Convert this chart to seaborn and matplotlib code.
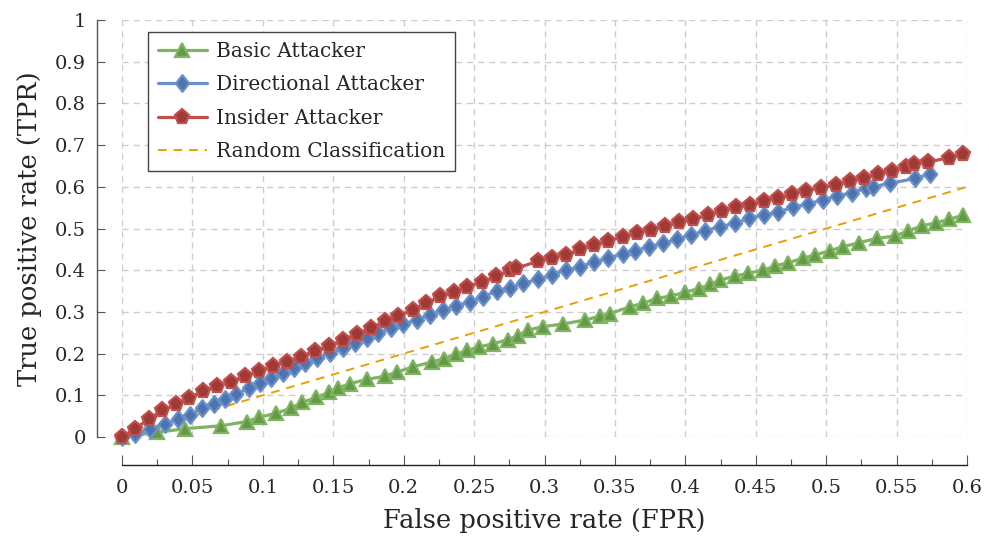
import matplotlib
matplotlib.use("Agg")
import matplotlib.pyplot as plt
from matplotlib.ticker import MultipleLocator, FixedLocator
from matplotlib.path import Path
import seaborn as sns
import pandas as pd

# ROC points per attacker model
basic_fpr = [0, 0.0246, 0.045, 0.0705, 0.0885, 0.097, 0.1095, 0.1198, 0.128, 0.138,
             0.1466, 0.1536, 0.162, 0.1737, 0.1867, 0.1955, 0.2064, 0.22, 0.2287, 0.237,
             0.245, 0.2537, 0.2637, 0.2737, 0.2812, 0.2885, 0.2987, 0.3133, 0.3287, 0.3394,
             0.3465, 0.3607, 0.370, 0.3797, 0.3896, 0.3995, 0.4096, 0.4176, 0.4246, 0.4353,
             0.4447, 0.4554, 0.4637, 0.473, 0.4833, 0.492, 0.5027, 0.5117, 0.5235, 0.536,
             0.549, 0.5583, 0.5678, 0.578, 0.5874, 0.5974]
basic_tpr = [0, 0.011, 0.020, 0.027, 0.037, 0.047, 0.057, 0.069, 0.083, 0.095,
             0.107, 0.118, 0.128, 0.138, 0.146, 0.156, 0.168, 0.180, 0.188, 0.198,
             0.208, 0.216, 0.224, 0.233, 0.243, 0.2566, 0.2646, 0.271, 0.2806, 0.290,
             0.296, 0.3125, 0.3205, 0.3325, 0.338, 0.347, 0.356, 0.366, 0.3765, 0.386,
             0.3925, 0.4005, 0.410, 0.418, 0.4285, 0.4365, 0.4468, 0.4564, 0.466, 0.4765,
             0.482, 0.4948, 0.506, 0.514, 0.522, 0.5324]

directional_fpr = [0, 0.0095, 0.0202, 0.0303, 0.0395, 0.048, 0.057, 0.065, 0.073, 0.081,
                   0.090, 0.098, 0.106, 0.1145, 0.122, 0.130, 0.1385, 0.1477, 0.1566, 0.1655,
                   0.1737, 0.182, 0.1907, 0.1998, 0.2092, 0.2187, 0.2281, 0.237, 0.247, 0.2566,
                   0.266, 0.2755, 0.285, 0.295, 0.305, 0.3153, 0.325, 0.335, 0.3453, 0.3555,
                   0.3643, 0.3744, 0.3843, 0.394, 0.404, 0.414, 0.4246, 0.4353, 0.4454, 0.4558,
                   0.466, 0.4766, 0.4868, 0.4975, 0.5079, 0.518, 0.5283, 0.5335, 0.5453, 0.563,
                   0.574]
directional_tpr = [0, 0.007, 0.018, 0.030, 0.043, 0.053, 0.069, 0.078, 0.090, 0.102,
                   0.117, 0.129, 0.141, 0.154, 0.165, 0.177, 0.189, 0.2007, 0.2127, 0.2247,
                   0.238, 0.250, 0.2607, 0.271, 0.2806, 0.2926, 0.3046, 0.314, 0.3245, 0.3365,
                   0.350, 0.358, 0.3685, 0.378, 0.3885, 0.4005, 0.407, 0.420, 0.4285, 0.440,
                   0.4468, 0.4564, 0.4645, 0.474, 0.4844, 0.4948, 0.5044, 0.5125, 0.5245, 0.5324,
                   0.540, 0.5508, 0.5588, 0.5683, 0.578, 0.586, 0.5963, 0.6003, 0.6083, 0.620,
                   0.6307]

insider_fpr = [0, 0.0092, 0.019, 0.0285, 0.0383, 0.0478, 0.0577, 0.0677, 0.0774, 0.0873,
               0.0975, 0.1074, 0.1174, 0.127, 0.137, 0.147, 0.157, 0.1667, 0.1765, 0.1867,
               0.196, 0.2064, 0.2158, 0.2258, 0.2357, 0.245, 0.2553, 0.2656, 0.2755, 0.280,
               0.2956, 0.305, 0.3153, 0.325, 0.335, 0.3453, 0.3555, 0.3654, 0.3754, 0.3856,
               0.3955, 0.4057, 0.4159, 0.4258, 0.436, 0.446, 0.456, 0.466, 0.476, 0.486,
               0.4966, 0.5068, 0.517, 0.527, 0.537, 0.547, 0.557, 0.562, 0.572, 0.587,
               0.597]
insider_tpr = [0, 0.020, 0.043, 0.064, 0.078, 0.094, 0.110, 0.122, 0.133, 0.146,
               0.158, 0.170, 0.181, 0.193, 0.206, 0.218, 0.233, 0.247, 0.261, 0.277,
               0.290, 0.305, 0.321, 0.337, 0.348, 0.360, 0.372, 0.385, 0.4005, 0.4045,
               0.422, 0.4285, 0.4365, 0.450, 0.460, 0.471, 0.480, 0.490, 0.496, 0.507,
               0.515, 0.522, 0.532, 0.543, 0.551, 0.556, 0.567, 0.572, 0.582, 0.591,
               0.598, 0.604, 0.614, 0.620, 0.631, 0.639, 0.647, 0.655, 0.659, 0.670,
               0.678]

random_fpr = [0.0, 0.6]
random_tpr = [0.0, 0.6]

x_ticks = [0, 0.05, 0.1, 0.15, 0.2, 0.25, 0.3, 0.35, 0.4, 0.45, 0.5, 0.55, 0.6]
x_tick_labels = ["0", "0.05", "0.1", "0.15", "0.2", "0.25", "0.3", "0.35", "0.4",
                 "0.45", "0.5", "0.55", "0.6"]
y_ticks = [0, 0.1, 0.2, 0.3, 0.4, 0.5, 0.6, 0.7, 0.8, 0.9, 1.0]
y_tick_labels = ["0", "0.1", "0.2", "0.3", "0.4", "0.5", "0.6", "0.7", "0.8", "0.9", "1"]

sns.set_theme(style="white")
plt.rcParams["font.family"] = ["DejaVu Serif"]
plt.rcParams["mathtext.fontset"] = "dejavuserif"

# diamond a bit wider than matplotlib's thin 'd'
diamond = Path([(0, 1), (0.8, 0), (0, -1), (-0.8, 0), (0, 1)],
               [Path.MOVETO, Path.LINETO, Path.LINETO, Path.LINETO, Path.CLOSEPOLY])

fig = plt.figure(figsize=(9.89, 5.44), dpi=100)
ax = fig.add_axes([0.1234, 0.1967, 0.8544, 0.7665])

series = [
    ("Basic Attacker", basic_fpr, basic_tpr, "#80b463", "#629a45", "^", 10),
    ("Directional Attacker", directional_fpr, directional_tpr, "#6b90c9", "#4e74b0", diamond, 12),
    ("Insider Attacker", insider_fpr, insider_tpr, "#c0504d", "#a03a37", "p", 11),
]

for label, xs, ys, col, dark, mk, ms in series:
    df = pd.DataFrame({"fpr": xs, "tpr": ys})
    sns.lineplot(data=df, x="fpr", y="tpr", ax=ax, sort=False, estimator=None,
                 color=col, linewidth=2.3, marker=mk, markersize=ms,
                 markerfacecolor=dark, markeredgecolor=col, markeredgewidth=1.6,
                 label=label, clip_on=False, zorder=3)

rand_df = pd.DataFrame({"fpr": random_fpr, "tpr": random_tpr})
sns.lineplot(data=rand_df, x="fpr", y="tpr", ax=ax, color="#e5a100", linewidth=1.4,
             dashes=False, linestyle=(0, (4.5, 3.5)), label="Random Classification", zorder=2)

ax.set_xlim(0, 0.6)
ax.set_ylim(0, 1)
ax.xaxis.set_major_locator(FixedLocator(x_ticks))
ax.set_xticklabels(x_tick_labels)
ax.xaxis.set_minor_locator(MultipleLocator(0.025))
ax.yaxis.set_major_locator(FixedLocator(y_ticks))
ax.set_yticklabels(y_tick_labels)

ax.grid(True, which="major", color="#cccccc", linestyle=(0, (4.5, 3.5)), linewidth=1.0)
ax.set_axisbelow(True)

for side in ("top", "right"):
    ax.spines[side].set_visible(False)
ax.spines["left"].set_position(("outward", 18))
ax.spines["bottom"].set_position(("outward", 20))
ax.spines["left"].set_color("#555555")
ax.spines["bottom"].set_color("#222222")
ax.spines["left"].set_linewidth(1.0)
ax.spines["bottom"].set_linewidth(1.0)

ax.tick_params(axis="x", which="major", direction="in", length=7, width=0.8,
               color="#555555", labelsize=14, pad=10, bottom=True)
ax.tick_params(axis="x", which="minor", direction="in", length=4, width=0.8,
               color="#555555", bottom=True)
ax.tick_params(axis="y", which="major", direction="in", length=6, width=0.8,
               color="#555555", labelsize=14, pad=8, left=True)

ax.set_xlabel("False positive rate (FPR)", fontsize=18.5, labelpad=8)
ax.set_ylabel("True positive rate (TPR)", fontsize=18.5, labelpad=9)

leg = ax.legend(loc="upper left", bbox_to_anchor=(0.031, 0.972), fontsize=14.5,
                frameon=True, fancybox=False, framealpha=1, edgecolor="#444444",
                handlelength=2.4, handletextpad=0.45, borderpad=0.5, labelspacing=0.72,
                borderaxespad=0)
leg.get_frame().set_linewidth(1.0)

fig.savefig("out.png", dpi=100)
